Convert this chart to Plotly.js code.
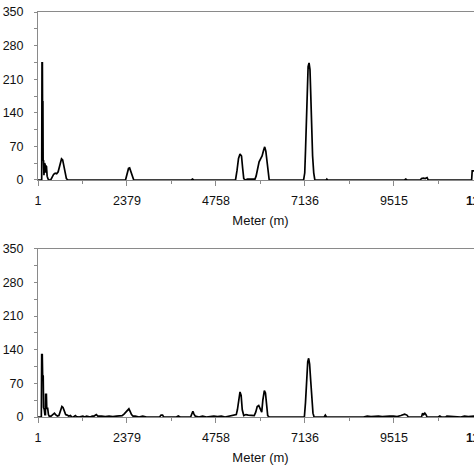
<!DOCTYPE html>
<html>
<head>
<meta charset="utf-8">
<script src="https://cdn.plot.ly/plotly-3.0.1.min.js"></script>
<style>
html,body{margin:0;padding:0;overflow:hidden;background:#fff;width:474px;height:474px;}
#chart{width:520px;height:474px;}
</style>
</head>
<body>
<div id="chart"></div>
<script>
// Distance (m) and values, panel 1 (top)
const dist1 = [1,80,100,108,118,122,132,138,150,160,175,190,200,215,228,245,270,300,340,380,420,460,500,540,570,600,630,660,690,720,760,800,
  2300,2340,2380,2420,2450,2480,2520,2560,
  4100,4130,4160,
  5280,5320,5360,5400,5440,5470,5500,5540,5600,5700,5800,5830,5870,5910,5950,5990,6030,6060,6090,6120,6150,6180,
  7100,7130,7150,7170,7195,7220,7245,7270,7290,7310,7340,7370,7400,
  7700,7720,7740,9800,9830,9860,10220,10250,10300,10350,10400,10430,11590,11605,11700,11760,11894];
const val1 = [0,0,0,244,244,163,163,42,40,10,35,33,15,30,28,8,2,0,0,6,12,14,13,17,25,38,44,42,30,12,3,0,
  0,0,12,24,25,18,5,0,
  0,2,0,
  0,20,45,54,50,25,3,0,2,2,2,8,25,38,44,50,62,69,60,35,10,0,
  0,15,60,110,190,236,244,230,180,120,50,15,0,
  0,2,0,0,2,0,0,3,4,3,5,0,0,19,19,0,0];

// Panel 2 (bottom)
const dist2 = [1,90,100,115,125,140,150,170,185,200,205,225,235,260,280,300,350,400,440,470,520,560,600,640,670,700,740,780,820,870,900,950,1000,1030,
  1100,1200,1250,1300,1400,1450,1500,1560,1600,1700,1800,1900,2000,2100,2200,2250,2300,2350,2400,2430,2460,2500,2540,2600,2700,2800,2900,
  3250,3290,3330,3360,3700,3750,3800,4080,4110,4140,4170,4200,4300,4400,4500,4700,4800,4900,5000,5100,5200,
  5300,5330,5370,5400,5430,5460,5500,5560,5620,5700,5780,5820,5860,5900,5940,5980,6010,6050,6080,6110,6140,6180,
  7120,7150,7180,7210,7235,7260,7290,7320,7350,7380,7650,7680,7710,
  8700,8800,8900,9000,9100,9200,9300,9400,9500,9600,9700,9750,9800,9860,9900,
  10250,10280,10310,10340,10370,10400,10450,10700,10740,10780,10900,10930,11300,11400,11500,11600,11700,11894];
const val2 = [0,0,130,130,85,85,20,15,5,5,47,47,18,18,5,2,2,5,8,5,2,3,12,22,20,12,5,4,2,3,0,0,3,1,
  0,2,0,2,0,2,2,5,2,2,1,2,1,2,2,3,6,10,15,17,12,5,2,2,0,2,0,
  0,4,4,0,0,2,0,0,8,12,6,2,0,2,0,2,1,2,0,2,3,
  5,15,40,52,45,15,3,5,4,3,3,10,22,24,18,10,35,55,50,20,3,0,
  0,30,80,115,122,110,75,35,8,0,0,4,0,
  0,2,1,2,2,1,2,2,2,1,3,5,6,4,0,
  0,8,5,8,5,0,0,0,2,0,0,2,0,2,1,2,2,0];

// Tick labels
const xTickVals = [1,2379,4758,7136,9515,11894];
const xTickText = ['1','2379','4758','7136','9515','<b>11894</b>'];
const xMinorVals = [1190,3568,5947,8325,10704];
const xTitle = 'Meter (m)';

const lineStyle = {color:'#000', width:1.7};
const traces = [
  {x:dist1, y:val1, type:'scatter', mode:'lines', line:lineStyle, xaxis:'x', yaxis:'y', hoverinfo:'skip'},
  {x:dist2, y:val2, type:'scatter', mode:'lines', line:lineStyle, xaxis:'x2', yaxis:'y2', hoverinfo:'skip'}
];

const font = {family:'"Liberation Sans", Arial, sans-serif', size:12.5, color:'#111'};
function xax(anchor){
  return {
    anchor:anchor, range:[1,11894], tickmode:'array', tickvals:xTickVals, ticktext:xTickText,
    showline:true, linecolor:'#8a8a8a', linewidth:1, mirror:true,
    ticks:'outside', ticklen:5, tickcolor:'#8a8a8a', tickwidth:1,
    minor:{tickmode:'array', tickvals:xMinorVals, ticks:'outside', ticklen:3, tickcolor:'#8a8a8a'},
    showgrid:false, zeroline:false, tickfont:font, ticklabelstandoff:4,
    title:{text:xTitle, font:{family:font.family, size:13, color:'#111'}, standoff:8}
  };
}
function yax(anchor, domain){
  return {
    anchor:anchor, domain:domain, range:[0,350], tickmode:'linear', tick0:0, dtick:70,
    showline:true, linecolor:'#8a8a8a', linewidth:1,
    ticks:'outside', ticklen:3, tickcolor:'#8a8a8a',
    minor:{dtick:35, ticks:'outside', ticklen:3, tickcolor:'#8a8a8a'},
    showgrid:false, zeroline:false, tickfont:font, ticklabelstandoff:8
  };
}
const layout = {
  width:520, height:474,
  margin:{l:38, r:37, t:12, b:57},
  showlegend:false,
  paper_bgcolor:'#fff', plot_bgcolor:'#fff',
  font:font,
  xaxis:xax('y'), yaxis:yax('x',[0.5852,1]),
  xaxis2:xax('y2'), yaxis2:yax('x2',[0,0.4156])
};
Plotly.newPlot('chart', traces, layout, {staticPlot:true, displayModeBar:false});
</script>
</body>
</html>
